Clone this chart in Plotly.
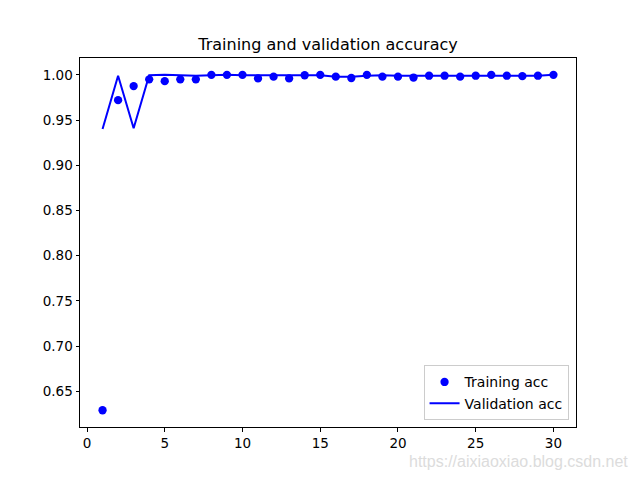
import plotly.graph_objects as go

epochs = list(range(1, 31))
training_acc = [0.629, 0.972, 0.9875, 0.995, 0.993, 0.995, 0.995, 1.0, 1.0, 1.0,
                0.996, 0.998, 0.996, 0.9995, 1.0, 0.998, 0.9965, 1.0, 0.998, 0.998,
                0.997, 0.999, 0.999, 0.998, 0.999, 1.0, 0.999, 0.9985, 0.999, 1.0]
validation_acc = [0.940, 0.999, 0.941, 0.9995, 1.0, 0.9995, 0.999, 0.9995, 1.0, 0.9995,
                  0.9995, 0.999, 0.999, 0.9995, 0.9995, 0.998, 0.998, 0.999, 0.9995, 0.999,
                  0.999, 0.999, 0.999, 0.9985, 0.999, 0.999, 0.999, 0.9985, 0.999, 1.0]
x_ticks = [0, 5, 10, 15, 20, 25, 30]
y_ticks = [0.65, 0.70, 0.75, 0.80, 0.85, 0.90, 0.95, 1.00]

FONT = "DejaVu Sans"

fig = go.Figure()
fig.add_trace(go.Scatter(x=epochs, y=training_acc, mode="markers", name="Training acc",
                         marker=dict(color="#0000ff", size=8.3)))
fig.add_trace(go.Scatter(x=epochs, y=validation_acc, mode="lines", name="Validation acc",
                         line=dict(color="#0000ff", width=2)))

axis_common = dict(showline=True, linecolor="black", linewidth=1, mirror=True,
                   ticks="outside", ticklen=3.5, tickwidth=1, tickcolor="black",
                   showgrid=False, zeroline=False,
                   tickfont=dict(family=FONT, size=13.5, color="black"))

fig.update_layout(
    width=640, height=480,
    margin=dict(l=80, r=64, t=57.6, b=52.8),
    paper_bgcolor="white", plot_bgcolor="white",
    font=dict(family=FONT, size=13.5, color="black"),
    title=dict(text="Training and validation accuracy", x=0.5, xref="paper", xanchor="center",
               y=1, yref="paper", yanchor="bottom", pad=dict(b=8),
               font=dict(family=FONT, size=16, color="black")),
    xaxis=dict(range=[-0.45, 31.45], tickvals=x_ticks, **axis_common),
    yaxis=dict(range=[0.6105, 1.0186], tickvals=y_ticks, tickformat=".2f", **axis_common),
    legend=dict(x=0.985, y=0.018, xanchor="right", yanchor="bottom",
                bordercolor="#cccccc", borderwidth=1, bgcolor="rgba(255,255,255,0.8)",
                font=dict(family=FONT, size=14), tracegroupgap=3, itemwidth=30),
    showlegend=True,
)
fig.add_annotation(text="https://aixiaoxiao.blog.csdn.net", xref="paper", yref="paper",
                   x=1.109, y=-0.094, xanchor="right", yanchor="middle", showarrow=False,
                   font=dict(family="Liberation Sans", size=16, color="#dcdcdc"))

fig.write_html("out.html")
